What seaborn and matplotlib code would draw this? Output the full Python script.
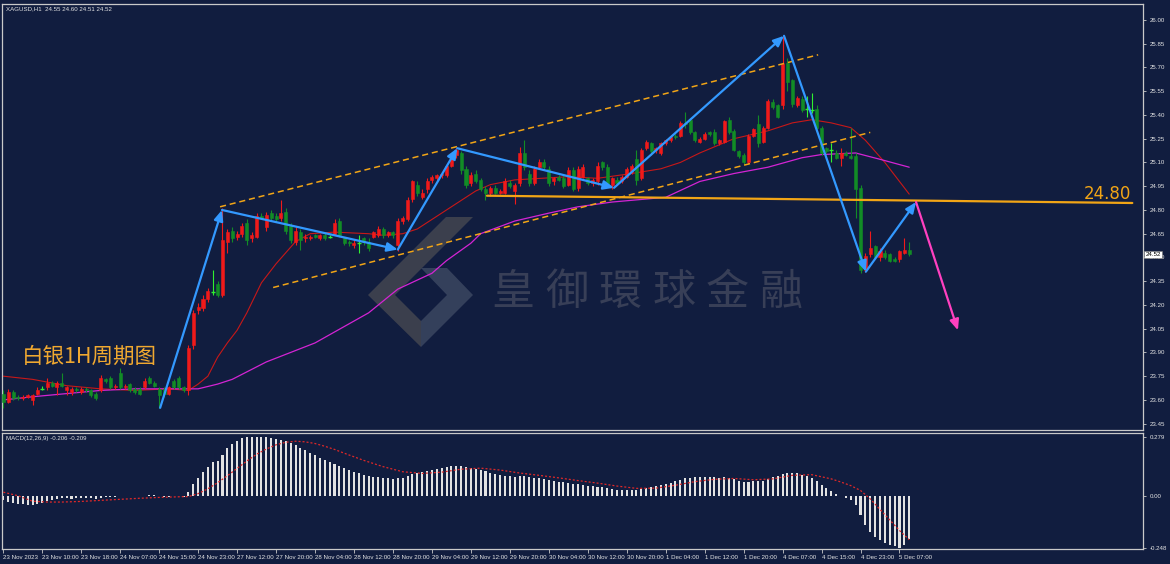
import numpy as np
import pandas as pd
import matplotlib
matplotlib.use('Agg')
import matplotlib.pyplot as plt
import matplotlib.transforms as mtransforms
from matplotlib.patches import Polygon
import seaborn as sns

# ---------------- data (XAGUSD H1) ----------------
opens = [23.64, 23.59, 23.65, 23.62, 23.61, 23.62, 23.60, 23.64, 23.67, 23.68,
         23.71, 23.68, 23.71, 23.66, 23.65, 23.67, 23.65, 23.67, 23.66, 23.64,
         23.66, 23.73, 23.74, 23.68, 23.77, 23.68, 23.70, 23.67, 23.67, 23.68,
         23.74, 23.71, 23.67, 23.67, 23.64, 23.72, 23.74, 23.68, 23.66, 23.95,
         24.17, 24.18, 24.24, 24.28, 24.33, 24.26, 24.60, 24.67, 24.63, 24.65,
         24.72, 24.62, 24.63, 24.76, 24.69, 24.78, 24.76, 24.75, 24.79, 24.70,
         24.60, 24.66, 24.62, 24.62, 24.64, 24.62, 24.64, 24.63, 24.65, 24.73,
         24.62, 24.60, 24.58, 24.59, 24.62, 24.60, 24.63, 24.64, 24.68, 24.64,
         24.66, 24.58, 24.73, 24.74, 24.87, 24.96, 24.88, 24.93, 24.99, 25.00,
         25.02, 25.02, 25.08, 25.15, 25.16, 25.06, 24.97, 25.03, 24.99, 24.93,
         24.91, 24.94, 24.91, 24.91, 24.97, 24.92, 24.97, 25.16, 25.03, 24.97,
         25.07, 25.10, 25.06, 24.98, 25.01, 25.00, 24.96, 25.05, 24.94, 25.01,
         25.00, 24.97, 24.98, 25.10, 25.07, 24.96, 24.99, 24.98, 25.01, 25.04,
         25.12, 25.00, 25.19, 25.22, 25.18, 25.16, 25.22, 25.24, 25.27, 25.27,
         25.35, 25.37, 25.29, 25.23, 25.25, 25.29, 25.29, 25.22, 25.23, 25.37,
         25.30, 25.17, 25.15, 25.10, 25.27, 25.34, 25.23, 25.32, 25.48, 25.46,
         25.46, 25.73, 25.62, 25.46, 25.50, 25.44, 25.43, 25.44, 25.32, 25.19,
         25.18, 25.16, 25.13, 25.16, 25.14, 25.14, 24.94, 24.42, 24.52, 24.57,
         24.50, 24.53, 24.52, 24.49, 24.49, 24.53, 24.55]
highs = [23.66, 23.67, 23.66, 23.63, 23.63, 23.64, 23.64, 23.68, 23.69, 23.74,
         23.72, 23.72, 23.77, 23.69, 23.68, 23.68, 23.68, 23.68, 23.67, 23.65,
         23.76, 23.74, 23.75, 23.70, 23.80, 23.70, 23.71, 23.68, 23.68, 23.74,
         23.75, 23.72, 23.68, 23.68, 23.69, 23.73, 23.75, 23.69, 23.95, 24.17,
         24.21, 24.26, 24.31, 24.42, 24.35, 24.81, 24.68, 24.69, 24.67, 24.72,
         24.74, 24.66, 24.78, 24.78, 24.79, 24.80, 24.78, 24.86, 24.81, 24.72,
         24.69, 24.68, 24.65, 24.64, 24.65, 24.65, 24.66, 24.64, 24.74, 24.75,
         24.63, 24.61, 24.61, 24.64, 24.63, 24.62, 24.67, 24.70, 24.69, 24.67,
         24.67, 24.75, 24.76, 24.88, 24.99, 24.98, 24.93, 25.00, 25.02, 25.03,
         25.04, 25.09, 25.16, 25.19, 25.17, 25.08, 25.04, 25.05, 25.00, 24.95,
         24.95, 24.96, 24.93, 25.00, 24.99, 24.97, 25.20, 25.24, 25.05, 25.08,
         25.12, 25.12, 25.08, 25.01, 25.02, 25.02, 25.07, 25.07, 25.08, 25.09,
         25.01, 25.00, 25.10, 25.11, 25.09, 25.01, 25.01, 25.02, 25.07, 25.09,
         25.18, 25.19, 25.24, 25.23, 25.20, 25.23, 25.25, 25.27, 25.28, 25.36,
         25.42, 25.38, 25.30, 25.26, 25.29, 25.30, 25.31, 25.25, 25.37, 25.39,
         25.31, 25.18, 25.16, 25.28, 25.32, 25.40, 25.33, 25.50, 25.50, 25.47,
         25.90, 25.76, 25.63, 25.52, 25.52, 25.52, 25.54, 25.46, 25.33, 25.20,
         25.22, 25.18, 25.19, 25.17, 25.32, 25.16, 24.96, 24.53, 24.67, 24.58,
         24.56, 24.55, 24.53, 24.50, 24.55, 24.62, 24.60]
lows = [23.55, 23.58, 23.60, 23.60, 23.60, 23.61, 23.57, 23.63, 23.66, 23.66,
        23.68, 23.63, 23.68, 23.63, 23.63, 23.65, 23.64, 23.65, 23.62, 23.60,
        23.65, 23.71, 23.67, 23.67, 23.67, 23.67, 23.65, 23.64, 23.63, 23.67,
        23.70, 23.68, 23.55, 23.62, 23.63, 23.67, 23.67, 23.65, 23.63, 23.92,
        24.14, 24.16, 24.22, 24.26, 24.25, 24.25, 24.53, 24.60, 24.61, 24.63,
        24.58, 24.60, 24.62, 24.74, 24.67, 24.73, 24.73, 24.73, 24.65, 24.59,
        24.58, 24.55, 24.60, 24.61, 24.62, 24.61, 24.61, 24.62, 24.64, 24.63,
        24.58, 24.57, 24.56, 24.53, 24.58, 24.54, 24.62, 24.63, 24.62, 24.63,
        24.62, 24.54, 24.71, 24.73, 24.85, 24.89, 24.87, 24.91, 24.97, 24.99,
        25.00, 25.01, 25.07, 25.13, 25.03, 24.94, 24.95, 24.97, 24.92, 24.86,
        24.89, 24.90, 24.90, 24.90, 24.94, 24.84, 24.95, 25.05, 24.95, 24.96,
        25.06, 25.06, 24.95, 24.96, 24.98, 24.94, 24.95, 24.92, 24.92, 25.00,
        24.96, 24.95, 24.96, 25.05, 24.95, 24.93, 24.96, 24.97, 25.00, 25.03,
        24.96, 24.99, 25.18, 25.15, 25.16, 25.15, 25.21, 25.23, 25.25, 25.26,
        25.32, 25.28, 25.23, 25.22, 25.24, 25.27, 25.21, 25.21, 25.22, 25.28,
        25.17, 25.13, 25.09, 25.09, 25.26, 25.20, 25.22, 25.31, 25.44, 25.38,
        25.44, 25.55, 25.45, 25.45, 25.42, 25.39, 25.41, 25.31, 25.15, 25.16,
        25.10, 25.12, 25.08, 25.14, 25.12, 24.75, 24.40, 24.41, 24.50, 24.49,
        24.48, 24.49, 24.47, 24.47, 24.47, 24.52, 24.51]
closes = [23.59, 23.65, 23.61, 23.61, 23.62, 23.63, 23.63, 23.66, 23.67, 23.71,
          23.69, 23.71, 23.69, 23.68, 23.67, 23.66, 23.67, 23.66, 23.63, 23.61,
          23.74, 23.72, 23.68, 23.69, 23.68, 23.69, 23.66, 23.65, 23.64, 23.72,
          23.71, 23.69, 23.63, 23.64, 23.68, 23.68, 23.68, 23.66, 23.93, 24.15,
          24.19, 24.24, 24.29, 24.28, 24.26, 24.61, 24.66, 24.62, 24.65, 24.70,
          24.61, 24.64, 24.76, 24.75, 24.77, 24.75, 24.74, 24.78, 24.67, 24.61,
          24.67, 24.61, 24.63, 24.63, 24.63, 24.64, 24.62, 24.63, 24.72, 24.64,
          24.59, 24.59, 24.59, 24.59, 24.60, 24.56, 24.66, 24.68, 24.64, 24.66,
          24.64, 24.73, 24.75, 24.86, 24.98, 24.91, 24.91, 24.98, 25.01, 25.02,
          25.03, 25.08, 25.15, 25.18, 25.05, 24.96, 25.02, 24.98, 24.93, 24.91,
          24.94, 24.91, 24.92, 24.98, 24.95, 24.96, 25.16, 25.07, 24.97, 25.06,
          25.10, 25.07, 24.97, 25.00, 24.99, 24.95, 25.05, 24.93, 25.06, 25.07,
          24.97, 24.99, 25.08, 25.07, 24.96, 25.00, 24.97, 25.01, 25.06, 25.08,
          24.99, 25.18, 25.23, 25.17, 25.19, 25.22, 25.24, 25.26, 25.26, 25.35,
          25.34, 25.29, 25.24, 25.25, 25.28, 25.28, 25.22, 25.24, 25.36, 25.29,
          25.18, 25.14, 25.10, 25.27, 25.31, 25.22, 25.32, 25.49, 25.45, 25.39,
          25.72, 25.61, 25.47, 25.51, 25.43, 25.44, 25.43, 25.32, 25.16, 25.17,
          25.18, 25.13, 25.16, 25.15, 25.13, 24.93, 24.42, 24.51, 24.56, 24.50,
          24.54, 24.50, 24.48, 24.48, 24.54, 24.55, 24.52]

# moving averages, sampled along the drawn curves (bar index, price)
ma_red_bar = [0, 6, 13, 20, 27, 34, 38, 40, 42, 44, 46, 48, 50, 53, 56, 58, 60, 63, 68, 75,
              78, 82, 85, 88, 91, 94, 97, 100, 105, 116, 122, 129, 135, 139, 143, 150, 157,
              162, 166, 170, 174, 177, 181, 186]
ma_red_val = [23.75, 23.73, 23.69, 23.67, 23.66, 23.67, 23.66, 23.70, 23.75, 23.87, 23.96,
              24.04, 24.15, 24.34, 24.46, 24.53, 24.60, 24.65, 24.66, 24.65, 24.64, 24.65,
              24.68, 24.74, 24.80, 24.86, 24.92, 24.96, 24.99, 25.01, 25.00, 25.03, 25.06,
              25.10, 25.16, 25.25, 25.30, 25.35, 25.37, 25.35, 25.32, 25.24, 25.10, 24.90]
ma_pink_bar = [0, 6, 13, 20, 27, 34, 40, 44, 47, 54, 64, 75, 81, 88, 91, 96, 98, 105, 112,
               118, 125, 136, 143, 150, 157, 164, 168, 175, 180, 186]
ma_pink_val = [23.60, 23.62, 23.64, 23.66, 23.67, 23.67, 23.67, 23.70, 23.73, 23.84, 23.96,
               24.15, 24.30, 24.40, 24.48, 24.59, 24.65, 24.73, 24.78, 24.82, 24.85, 24.88,
               24.98, 25.03, 25.07, 25.13, 25.15, 25.16, 25.12, 25.07]

# MACD(12,26,9) main values (histogram) and signal samples
macd = [-0.020, -0.030, -0.035, -0.037, -0.040, -0.042, -0.042, -0.040, -0.035, -0.025,
        -0.018, -0.015, -0.013, -0.013, -0.015, -0.013, -0.013, -0.013, -0.013, -0.015,
        -0.012, -0.006, -0.006, -0.004, -0.003, -0.003, -0.002, -0.002, -0.002, 0.001,
        0.003, 0.004, -0.003, -0.005, -0.004, -0.003, -0.002, -0.004, 0.020, 0.055,
        0.085, 0.115, 0.138, 0.160, 0.166, 0.195, 0.225, 0.248, 0.262, 0.272,
        0.277, 0.279, 0.279, 0.278, 0.277, 0.274, 0.270, 0.266, 0.260, 0.250,
        0.240, 0.228, 0.216, 0.204, 0.192, 0.180, 0.168, 0.158, 0.150, 0.142,
        0.132, 0.122, 0.114, 0.106, 0.100, 0.094, 0.090, 0.088, 0.085, 0.083,
        0.080, 0.083, 0.086, 0.093, 0.103, 0.108, 0.113, 0.118, 0.124, 0.129,
        0.133, 0.136, 0.140, 0.143, 0.142, 0.137, 0.134, 0.129, 0.123, 0.116,
        0.110, 0.104, 0.099, 0.096, 0.092, 0.089, 0.093, 0.092, 0.087, 0.085,
        0.083, 0.080, 0.075, 0.071, 0.067, 0.063, 0.061, 0.057, 0.055, 0.053,
        0.048, 0.044, 0.042, 0.040, 0.035, 0.030, 0.027, 0.025, 0.025, 0.027,
        0.025, 0.030, 0.036, 0.040, 0.045, 0.050, 0.056, 0.062, 0.068, 0.075,
        0.082, 0.085, 0.087, 0.088, 0.090, 0.090, 0.087, 0.085, 0.087, 0.086,
        0.080, 0.072, 0.064, 0.065, 0.068, 0.068, 0.070, 0.080, 0.088, 0.092,
        0.105, 0.110, 0.110, 0.106, 0.100, 0.092, 0.083, 0.070, 0.052, 0.037,
        0.024, 0.010, -0.002, -0.010, -0.018, -0.045, -0.090, -0.140, -0.172, -0.196,
        -0.212, -0.224, -0.233, -0.240, -0.248, -0.232, -0.206]
signal_bar = [0, 3, 6, 9, 12, 16, 20, 24, 28, 32, 36, 38, 40, 42, 44, 46, 48, 50, 52, 54,
              56, 58, 60, 62, 64, 66, 68, 70, 74, 78, 82, 86, 90, 94, 98, 102, 106, 110,
              114, 118, 122, 126, 130, 134, 138, 142, 146, 150, 154, 158, 162, 166, 170,
              172, 174, 176, 178, 180, 182, 184, 186]
signal_val = [0.017, 0.000, -0.026, -0.030, -0.030, -0.027, -0.022, -0.017, -0.012, -0.008,
              -0.005, -0.004, 0.010, 0.033, 0.062, 0.095, 0.130, 0.165, 0.197, 0.222,
              0.242, 0.254, 0.259, 0.256, 0.248, 0.235, 0.220, 0.202, 0.168, 0.138,
              0.114, 0.106, 0.112, 0.126, 0.131, 0.122, 0.108, 0.097, 0.085, 0.072,
              0.060, 0.046, 0.035, 0.036, 0.050, 0.067, 0.078, 0.082, 0.076, 0.080,
              0.097, 0.100, 0.080, 0.065, 0.048, 0.025, -0.015, -0.065, -0.115, -0.165,
              -0.209]

# hand drawn analysis objects (bar index, price)
wave_pts = [(32.2, 23.55), (44.9, 24.80), (81.0, 24.55), (93.2, 25.19), (125.4, 24.94),
            (160.3, 25.90), (177.1, 24.41), (187.4, 24.85)]
proj_end = (196.0, 24.04)
chan_upper = [(44.5, 24.82), (167.3, 25.78)]
chan_lower = [(55.4, 24.31), (178.0, 25.29)]
level_line = [(99.3, 24.89), (231.8, 24.844)]
level_txt = '24.80'

time_bar = list(range(0, 185, 8))
time_txt = ['23 Nov 2023', '23 Nov 10:00', '23 Nov 18:00', '24 Nov 07:00', '24 Nov 15:00',
            '24 Nov 23:00', '27 Nov 12:00', '27 Nov 20:00', '28 Nov 04:00', '28 Nov 12:00',
            '28 Nov 20:00', '29 Nov 04:00', '29 Nov 12:00', '29 Nov 20:00', '30 Nov 04:00',
            '30 Nov 12:00', '30 Nov 20:00', '1 Dec 04:00', '1 Dec 12:00', '1 Dec 20:00',
            '4 Dec 07:00', '4 Dec 15:00', '4 Dec 23:00', '5 Dec 07:00']
price_ticks = [26.00, 25.85, 25.70, 25.55, 25.40, 25.25, 25.10, 24.95, 24.80, 24.65,
               24.50, 24.35, 24.20, 24.05, 23.90, 23.75, 23.60, 23.45]
macd_ticks = [0.279, 0.0, -0.248]
macd_tick_txt = ['0.279', '0.00', '-0.248']

# ---------------- style ----------------
BG = '#111d3f'
FRAME = '#c9c9c9'
TXT = '#e4e4e4'
UP = '#f01a1a'
DN = '#128c26'
DOJI = '#30f030'
BLUE = '#3399ff'
ORANGE = '#f2a516'
small = 4.4

sns.set_theme(style='dark', rc={'axes.facecolor': BG, 'figure.facecolor': BG,
                                 'axes.edgecolor': FRAME, 'axes.grid': False})
plt.rcParams['font.family'] = ['Liberation Sans', 'DejaVu Sans']

W, H = 1170, 564


def rect(x0, y0, x1, y1):
    return [x0 / W, 1 - y1 / H, (x1 - x0) / W, (y1 - y0) / H]


fig = plt.figure(figsize=(W / 100, H / 100), dpi=100)
ax = fig.add_axes(rect(2, 4, 1143, 430))
ax2 = fig.add_axes(rect(2, 433, 1143, 549), sharex=ax)

df = pd.DataFrame({'open': opens, 'high': highs, 'low': lows, 'close': closes})
df['bar'] = np.arange(len(df))

# candles
up = df[df.close > df.open]
dn = df[df.close < df.open]
dj = df[df.close == df.open]
for part, col in [(up, UP), (dn, DN)]:
    ax.vlines(part.bar, part.low, part.high, color=col, lw=0.8, zorder=3)
    ax.bar(part.bar, (part.close - part.open).abs(), bottom=part[['open', 'close']].min(axis=1),
           width=0.62, color=col, edgecolor=col, lw=0.4, zorder=3)
ax.vlines(dj.bar, dj.low, dj.high, color=DOJI, lw=0.8, zorder=3)
ax.hlines(dj.close, dj.bar - 0.4, dj.bar + 0.4, color=DOJI, lw=1.0, zorder=3)

# moving averages
sns.lineplot(x=ma_red_bar, y=ma_red_val, ax=ax, color='#c81818', lw=0.8, sort=False, zorder=2)
sns.lineplot(x=ma_pink_bar, y=ma_pink_val, ax=ax, color='#d424d4', lw=0.9, sort=False, zorder=2)

# channel + level
for seg in (chan_upper, chan_lower):
    (x0, y0), (x1, y1) = seg
    ax.plot([x0, x1], [y0, y1], color=ORANGE, lw=1.1, ls=(0, (4, 2.5)), zorder=4)
(x0, y0), (x1, y1) = level_line
ax.plot([x0, x1], [y0, y1], color=ORANGE, lw=1.6, zorder=4)
ax.text(231.6, 24.872, level_txt, color=ORANGE, fontsize=12, ha='right', va='baseline',
        family=['DejaVu Sans'], zorder=6)

# wave arrows
arrow_style = '-|>,head_length=0.7,head_width=0.3'
for p0, p1 in zip(wave_pts[:-1], wave_pts[1:]):
    ax.annotate('', xy=p1, xytext=p0, zorder=6,
                arrowprops=dict(arrowstyle=arrow_style, color=BLUE, lw=1.6,
                                shrinkA=0, shrinkB=0, mutation_scale=9))
ax.annotate('', xy=proj_end, xytext=wave_pts[-1], zorder=6,
            arrowprops=dict(arrowstyle=arrow_style, color='#ff40c0', lw=1.6,
                            shrinkA=0, shrinkB=0, mutation_scale=9))

# watermark logo + name
def px(x, y):
    return (x / W, 1 - y / H)


logo_a = [px(446, 217), px(473, 217), px(395, 295), px(421, 321), px(421, 347), px(368, 295)]
logo_b = [px(421, 268), px(447, 268), px(473, 295), px(421, 347), px(421, 321), px(447, 295)]
ax.add_patch(Polygon(logo_a, closed=True, transform=fig.transFigure, fc='#4e4e54',
                     ec='none', alpha=0.7, zorder=1, clip_on=False))
ax.add_patch(Polygon(logo_b, closed=True, transform=fig.transFigure, fc='#39445f',
                     ec='none', alpha=0.9, zorder=1, clip_on=False))
for k, ch in enumerate('皇御環球金融'):
    ax.text(*px(513 + 53.6 * k, 293), ch, transform=fig.transFigure, fontsize=31,
            color='#383f57', ha='center', va='center', family=['Noto Sans CJK TC'], zorder=1)

ax.text(*px(22, 357), '白银1H周期图', transform=fig.transFigure, fontsize=15.5,
        color='#f0a830', ha='left', va='center', family=['Noto Sans CJK SC', 'DejaVu Sans'],
        zorder=6)

ax.text(0.0035, 0.994, 'XAGUSD,H1  24.55 24.60 24.51 24.52', transform=ax.transAxes,
        fontsize=small, color=TXT, ha='left', va='top')

# axes, ticks
ax.set_xlim(-0.27, 234.0)
ax.set_ylim(23.410, 26.101)
ax.yaxis.tick_right()
ax.set_yticks(price_ticks)
ax.set_yticklabels([f'{v:.2f}' for v in price_ticks])
ax.tick_params(axis='y', right=True, length=2.5, width=0.6, color=FRAME, labelsize=small,
               labelcolor=TXT, pad=2)
ax.tick_params(axis='x', bottom=False, labelbottom=False)
ax.set_xlabel('')
ax.set_ylabel('')

trans = mtransforms.blended_transform_factory(ax.transAxes, ax.transData)
ax.text(1.0022, closes[-1], f'{closes[-1]:.2f}', transform=trans, fontsize=small, color='black',
        ha='left', va='center', clip_on=False, zorder=10,
        bbox=dict(boxstyle='square,pad=0.2', fc='white', ec='#777777', lw=0.4))

# MACD panel
ax2.bar(df.bar, macd, width=0.42, color='#e2e2e2', lw=0, zorder=2)
sns.lineplot(x=signal_bar, y=signal_val, ax=ax2, color='#e02828', lw=0.9, sort=False, zorder=3)
ax2.lines[-1].set_linestyle((0, (1.6, 1.6)))
ax2.set_ylim(-0.253, 0.298)
ax2.yaxis.tick_right()
ax2.set_yticks(macd_ticks)
ax2.set_yticklabels(macd_tick_txt)
ax2.tick_params(axis='y', right=True, length=2.5, width=0.6, color=FRAME, labelsize=small,
                labelcolor=TXT, pad=2)
ax2.set_xticks(time_bar)
ax2.set_xticklabels(time_txt, ha='left')
ax2.tick_params(axis='x', bottom=True, length=3, width=0.6, color=FRAME, labelsize=small,
                labelcolor=TXT, pad=1)
ax2.set_xlabel('')
ax2.set_ylabel('')
ax2.text(0.0035, 0.975, 'MACD(12,26,9) -0.206 -0.209', transform=ax2.transAxes,
         fontsize=small, color=TXT, ha='left', va='top')

for a in (ax, ax2):
    for s in a.spines.values():
        s.set_color(FRAME)
        s.set_linewidth(0.9)

fig.savefig('out.png', dpi=100, facecolor=BG)
